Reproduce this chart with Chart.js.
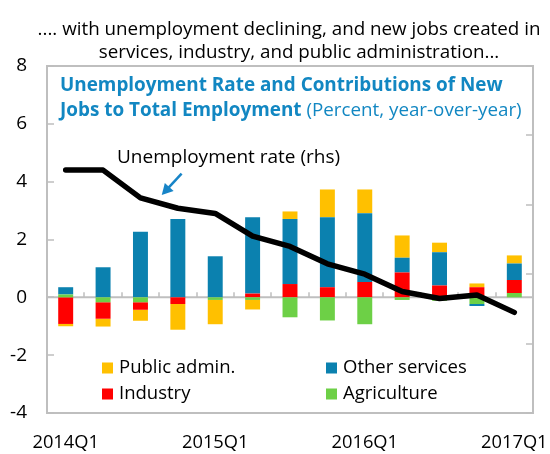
<!DOCTYPE html>
<html>
<head>
<meta charset="utf-8">
<script src="https://cdn.jsdelivr.net/npm/chart.js@4.4.1/dist/chart.umd.min.js"></script>
<style>
  html, body { margin: 0; padding: 0; background: #fff; }
</style>
</head>
<body>
<canvas id="chart" width="550" height="454"></canvas>
<script>
const quarters = ['2014Q1', '2014Q2', '2014Q3', '2014Q4', '2015Q1', '2015Q2', '2015Q3',
                  '2015Q4', '2016Q1', '2016Q2', '2016Q3', '2016Q4', '2017Q1'];

// contributions to total employment growth, percentage points (lhs)
const agriculture   = [0.10, -0.17, -0.17, 0.00, -0.09, -0.09, -0.69, -0.80, -0.93, -0.09, -0.12, -0.23, 0.15];
const industry      = [-0.92, -0.57, -0.26, -0.23, 0.00, 0.13, 0.46, 0.35, 0.53, 0.86, 0.41, 0.35, 0.45];
const otherServices = [0.25, 1.04, 2.27, 2.71, 1.42, 2.64, 2.25, 2.42, 2.38, 0.51, 1.15, -0.07, 0.57];
const publicAdmin   = [-0.08, -0.27, -0.38, -0.89, -0.84, -0.33, 0.26, 0.96, 0.82, 0.77, 0.33, 0.13, 0.28];

// unemployment rate, percent (rhs)
const unemployment = [11.0, 11.0, 10.2, 9.9, 9.75, 9.1, 8.8, 8.3, 8.0, 7.5, 7.3, 7.4, 6.9];

const leftTicks = [-4, -2, 0, 2, 4, 6, 8];

const FONT = '"Open Sans", sans-serif';
const GREY = '#BFBFBF';
const TITLE_BLUE = '#1287C2';

const decorations = {
    id: 'decorations',
    beforeDatasetsDraw(chart) {
        const { ctx, chartArea: a, scales: { x, y, y1 } } = chart;
        ctx.save();
        ctx.strokeStyle = GREY;
        ctx.lineWidth = 2;
        ctx.strokeRect(a.left, a.top, a.right - a.left, a.bottom - a.top);

        const y0 = y.getPixelForValue(0);
        ctx.beginPath();
        ctx.moveTo(a.left, y0);
        ctx.lineTo(a.right, y0);
        ctx.stroke();

        ctx.lineWidth = 1.5;
        ctx.beginPath();
        leftTicks.forEach(v => {
            const py = Math.round(y.getPixelForValue(v));
            ctx.moveTo(a.left, py);
            ctx.lineTo(a.left + 7, py);
        });
        y1.ticks.forEach(t => {
            const py = Math.round(y1.getPixelForValue(t.value));
            ctx.moveTo(a.right, py);
            ctx.lineTo(a.right - 7, py);
        });
        for (let i = 0; i < quarters.length - 1; i++) {
            const px = Math.round((x.getPixelForValue(i) + x.getPixelForValue(i + 1)) / 2);
            ctx.moveTo(px, y0);
            ctx.lineTo(px, y0 - 5);
        }
        ctx.stroke();
        ctx.restore();
    },
    afterDraw(chart) {
        const { ctx, scales: { x, y1 } } = chart;
        ctx.save();
        ctx.textBaseline = 'alphabetic';

        // heading above the frame
        ctx.fillStyle = '#000';
        ctx.font = '18.8px ' + FONT;
        ctx.textAlign = 'center';
        ctx.fillText('.... with unemployment declining, and new jobs created in', 289, 35);
        ctx.fillText('services, industry, and public administration...', 299, 58);

        // title inside the frame
        ctx.textAlign = 'left';
        ctx.fillStyle = TITLE_BLUE;
        ctx.font = 'bold 18.9px ' + FONT;
        ctx.fillText('Unemployment Rate and Contributions of New', 60, 91);
        const part = 'Jobs to Total Employment';
        ctx.fillText(part, 60, 116);
        const w = ctx.measureText(part).width;
        ctx.font = '18.8px ' + FONT;
        ctx.fillText(' (Percent, year-over-year)', 60 + w, 116);

        // line label with arrow pointing at the series
        ctx.fillStyle = '#000';
        ctx.font = '19px ' + FONT;
        ctx.fillText('Unemployment rate (rhs)', 117, 163);

        const tail = { x: x.getPixelForValue(3.1), y: y1.getPixelForValue(10.9) };
        const tip = { x: x.getPixelForValue(2.57), y: y1.getPixelForValue(10.28) };
        const ang = Math.atan2(tip.y - tail.y, tip.x - tail.x);
        ctx.strokeStyle = '#1784C7';
        ctx.fillStyle = '#1784C7';
        ctx.lineWidth = 2.5;
        ctx.beginPath();
        ctx.moveTo(tail.x, tail.y);
        ctx.lineTo(tip.x - 7 * Math.cos(ang), tip.y - 7 * Math.sin(ang));
        ctx.stroke();
        ctx.beginPath();
        ctx.moveTo(tip.x, tip.y);
        ctx.lineTo(tip.x - 11 * Math.cos(ang) + 6 * Math.sin(ang), tip.y - 11 * Math.sin(ang) - 6 * Math.cos(ang));
        ctx.lineTo(tip.x - 11 * Math.cos(ang) - 6 * Math.sin(ang), tip.y - 11 * Math.sin(ang) + 6 * Math.cos(ang));
        ctx.closePath();
        ctx.fill();

        // legend, two columns
        const order = [4, 3, 2, 1];
        const cols = [102, 326];
        const rows = [368, 394];
        ctx.font = '18.5px ' + FONT;
        ctx.textBaseline = 'middle';
        order.forEach((di, k) => {
            const ds = chart.data.datasets[di];
            const lx = cols[k % 2];
            const ly = rows[Math.floor(k / 2)];
            ctx.fillStyle = ds.backgroundColor;
            ctx.fillRect(lx, ly - 5.5, 11, 11);
            ctx.fillStyle = '#000';
            ctx.fillText(ds.label, lx + 17, ly);
        });
        ctx.restore();
    }
};

new Chart(document.getElementById('chart'), {
    data: {
        labels: quarters,
        datasets: [
            {
                type: 'line',
                label: 'Unemployment rate (rhs)',
                data: unemployment,
                yAxisID: 'y1',
                borderColor: '#000',
                borderWidth: 5.5,
                borderJoinStyle: 'round',
                borderCapStyle: 'round',
                pointRadius: 0,
                tension: 0,
                order: 0
            },
            { type: 'bar', label: 'Agriculture', data: agriculture, backgroundColor: '#6DD046', order: 1 },
            { type: 'bar', label: 'Industry', data: industry, backgroundColor: '#FF0000', order: 1 },
            { type: 'bar', label: 'Other services', data: otherServices, backgroundColor: '#0B81AF', order: 1 },
            { type: 'bar', label: 'Public admin.', data: publicAdmin, backgroundColor: '#FFC000', order: 1 }
        ]
    },
    options: {
        responsive: false,
        animation: false,
        devicePixelRatio: 1,
        layout: { padding: { top: 66, right: 17, left: 0, bottom: 0 } },
        datasets: { bar: { barPercentage: 0.4, categoryPercentage: 1.0 } },
        plugins: {
            legend: { display: false },
            tooltip: { enabled: false },
            title: { display: false }
        },
        scales: {
            x: {
                stacked: true,
                grid: { display: false, drawTicks: false },
                border: { display: false },
                ticks: {
                    autoSkip: false,
                    maxRotation: 0,
                    padding: 19,
                    color: '#000',
                    font: { family: FONT, size: 18.3 },
                    callback: (v, i) => quarters[i].endsWith('Q1') ? quarters[i] : ''
                },
                afterFit: s => {
                    s.height = 41;
                    s.paddingLeft = 0;
                    s.paddingRight = 0;
                }
            },
            y: {
                stacked: true,
                min: -4,
                max: 8,
                grid: { display: false, drawTicks: false },
                border: { display: false },
                ticks: {
                    stepSize: 2,
                    padding: 20,
                    color: '#000',
                    font: { family: FONT, size: 19 }
                },
                afterFit: s => { s.width = 47; }
            },
            y1: {
                display: false,
                position: 'right',
                min: 4,
                max: 14,
                ticks: { stepSize: 2 }
            }
        }
    },
    plugins: [decorations]
});
</script>
</body>
</html>
